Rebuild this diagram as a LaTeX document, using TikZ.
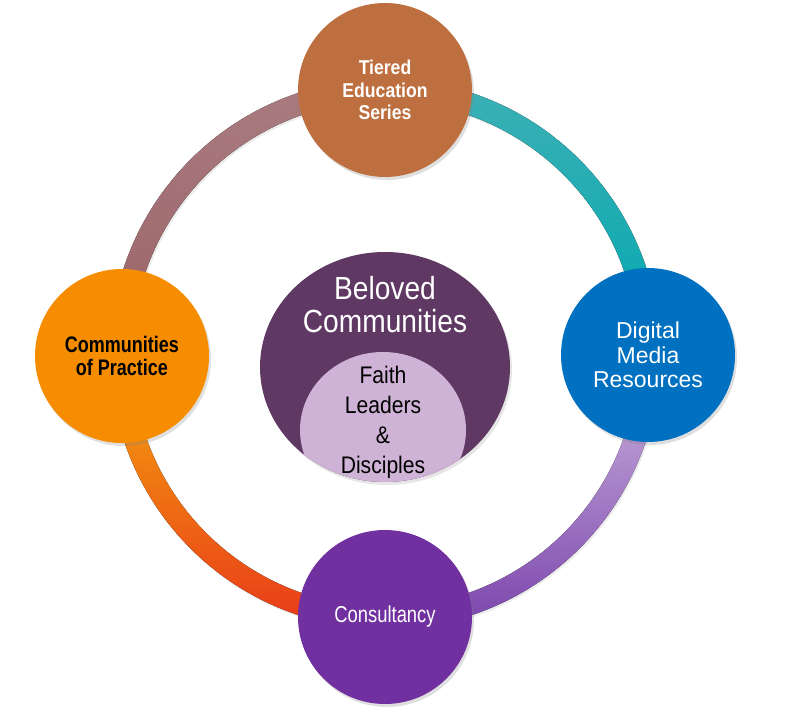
\documentclass[tikz,border=0pt]{standalone}
\usepackage{fontspec}
\setmainfont{Liberation Sans}
\newfontfamily\narrowsans[FakeStretch=0.88]{Liberation Sans}
\newfontfamily\slimsans[FakeStretch=0.8]{Liberation Sans}
\usetikzlibrary{positioning, calc, shapes.geometric, shadows}

\definecolor{tieredbrown}{HTML}{BE6F40}
\definecolor{mediablue}{HTML}{0070C0}
\definecolor{practiceorange}{HTML}{F68D00}
\definecolor{consultpurple}{HTML}{7030A0}
\definecolor{belovedplum}{HTML}{5F3864}
\definecolor{faithlilac}{HTML}{CFB3D6}
\definecolor{mauvetop}{HTML}{A97C80}
\definecolor{mauvebot}{HTML}{9A6266}
\definecolor{tealtop}{HTML}{3DB0B5}
\definecolor{tealbot}{HTML}{00A8B0}
\definecolor{lilactop}{HTML}{CFB8E0}
\definecolor{lilacbot}{HTML}{7A44AC}
\definecolor{flametop}{HTML}{F6AC0C}
\definecolor{flamebot}{HTML}{E8381A}

\tikzset{
  hubnode/.style={circle, minimum size=174pt, inner sep=0pt, align=center, text=white,
    drop shadow={opacity=0.25, shadow xshift=2pt, shadow yshift=-3pt}},
  ringpart/.style={drop shadow={opacity=0.15, shadow xshift=1.5pt, shadow yshift=-2pt}}
}

\begin{document}
\begin{tikzpicture}[x=1pt, y=1pt]
    \useasboundingbox (0,0) rectangle (792,715);
    \coordinate (hub) at (385,361);
    % ring, one quarter at a time
    \fill[ringpart, top color=mauvetop, bottom color=mauvebot]
        ([shift={(90:275)}]hub) arc[start angle=90, end angle=180, radius=275]
        -- ([shift={(180:253)}]hub) arc[start angle=180, end angle=90, radius=253] -- cycle;
    \fill[ringpart, top color=tealtop, bottom color=tealbot]
        ([shift={(90:275)}]hub) arc[start angle=90, end angle=0, radius=275]
        -- ([shift={(0:253)}]hub) arc[start angle=0, end angle=90, radius=253] -- cycle;
    \fill[ringpart, top color=lilactop, bottom color=lilacbot]
        ([shift={(0:275)}]hub) arc[start angle=0, end angle=-90, radius=275]
        -- ([shift={(-90:253)}]hub) arc[start angle=-90, end angle=0, radius=253] -- cycle;
    \fill[ringpart, top color=flametop, bottom color=flamebot]
        ([shift={(180:275)}]hub) arc[start angle=180, end angle=270, radius=275]
        -- ([shift={(270:253)}]hub) arc[start angle=270, end angle=180, radius=253] -- cycle;
    % the four topics
    \node[hubnode, fill=tieredbrown, font=\narrowsans\bfseries\fontsize{20}{22.5}\selectfont] (tiered) at (385,625) {Tiered\\Education\\Series};
    \node[hubnode, fill=mediablue, font=\fontsize{23}{24.5}\selectfont] (media) at (648,360) {Digital\\Media\\Resources};
    \node[hubnode, fill=consultpurple, font=\slimsans\fontsize{23}{24}\selectfont] (consult) at (385,98) {Consultancy};
    \node[hubnode, fill=practiceorange, text=black, font=\slimsans\bfseries\fontsize{22.5}{23}\selectfont] (practice) at (122,359) {Communities\\of Practice};
    % centre
    \node[ellipse, fill=belovedplum, minimum width=250pt, minimum height=230pt, inner sep=0pt,
        drop shadow={opacity=0.2, shadow xshift=2pt, shadow yshift=-3pt}] (beloved) at (385,348) {};
    \begin{scope}
        \clip (beloved.center) ellipse [x radius=125, y radius=115];
        \fill[faithlilac] (383,285) ellipse [x radius=83, y radius=78];
    \end{scope}
    \node[text=white, align=center, font=\narrowsans\fontsize{32}{33}\selectfont] (belovedtext) at (385,410) {Beloved\\Communities};
    \node[align=center, font=\narrowsans\fontsize{24}{30}\selectfont] (faith) at (383,293) {Faith\\Leaders\\\&\\Disciples};
\end{tikzpicture}
\end{document}
